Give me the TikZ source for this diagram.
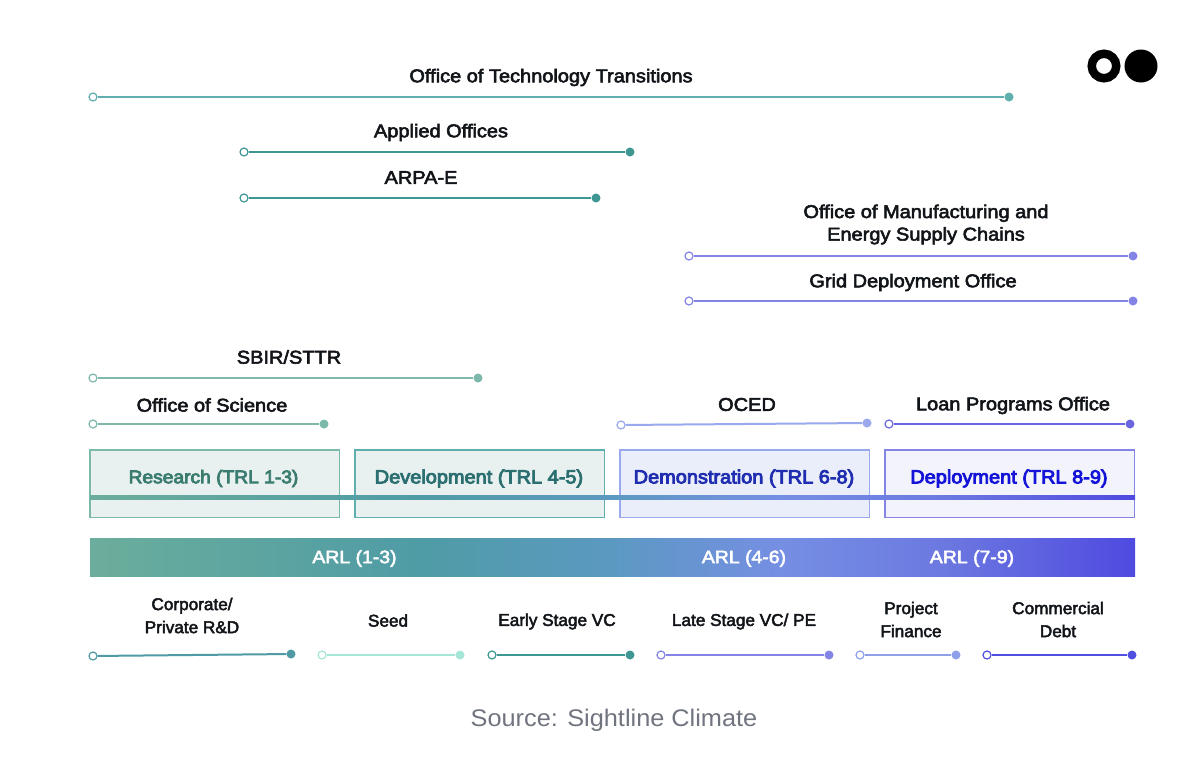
\documentclass[tikz,border=0pt]{standalone}
\usepackage{fontspec}
\setmainfont{Liberation Sans}
\newfontfamily\medfont[FakeBold=3.0,FakeStretch=1.08]{Liberation Sans}
\newfontfamily\lowfont[FakeBold=2.8,FakeStretch=1.01]{Liberation Sans}
\newfontfamily\boldish[FakeBold=4.5,FakeStretch=1.05]{Liberation Sans}
\newfontfamily\srcfont[FakeStretch=1.055]{Liberation Sans}
\definecolor{inkc}{HTML}{111418}
\definecolor{srcgray}{HTML}{70747F}
\definecolor{tealA}{HTML}{5FAFAE}
\definecolor{tealB}{HTML}{3F9793}
\definecolor{tealC}{HTML}{7DB9AA}
\definecolor{tealD}{HTML}{4F9AA5}
\definecolor{mint}{HTML}{A6E6D6}
\definecolor{vioA}{HTML}{8484E6}
\definecolor{vioB}{HTML}{9AA8EE}
\definecolor{vioC}{HTML}{6A66E0}
\definecolor{vioD}{HTML}{8FA0E8}
\definecolor{vioE}{HTML}{5050E0}
\pgfdeclarehorizontalshading{arlshade}{100bp}{
  rgb(0bp)=(0.42,0.68,0.61);
  rgb(25bp)=(0.42,0.68,0.61);
  rgb(41bp)=(0.31,0.61,0.65);
  rgb(50bp)=(0.36,0.60,0.76);
  rgb(58bp)=(0.46,0.56,0.89);
  rgb(66bp)=(0.42,0.47,0.88);
  rgb(75bp)=(0.31,0.29,0.88);
  rgb(100bp)=(0.31,0.29,0.88)}
\tikzset{
  x=1pt,y=-1pt,
  lbl/.style={font=\fontsize{18.5}{22.5}\selectfont\medfont,text=inkc,align=center,inner sep=0pt},
  lowlbl/.style={font=\fontsize{17}{23}\selectfont\lowfont,text=inkc,align=center,inner sep=0pt},
  stagebox/.style={draw=#1,line width=1.5pt,minimum width=249.5pt,minimum height=67.5pt,inner sep=0pt,anchor=north west},
  stagetxt/.style={font=\fontsize{19}{22}\selectfont\boldish,inner sep=0pt},
  arltxt/.style={font=\fontsize{18}{22}\selectfont\medfont,text=white,inner sep=0pt},
  opendot/.style={circle,draw=#1,fill=white,line width=1.2pt,minimum size=8pt,inner sep=0pt},
  fulldot/.style={circle,fill=#1,minimum size=9pt,inner sep=0pt},
  spanln/.style={draw=#1,line width=2pt}
}
\newcommand{\spanline}[4]{%
  \node[opendot=#4] (#1a) at (#2) {};
  \node[fulldot=#4] (#1b) at (#3) {};
  \draw[spanln=#4] (#1a) -- (#1b);
}
\begin{document}
\begin{tikzpicture}
\useasboundingbox (0,0) rectangle (1200,774);
\fill[white] (0,0) rectangle (1200,774);

% logo
\node[circle,draw=black,line width=8.5pt,fill=white,minimum size=24.5pt,inner sep=0pt] (logoa) at (1104,66) {};
\node[circle,fill=black,minimum size=33pt,inner sep=0pt] (logob) at (1141,66) {};

% top spans
\spanline{ott}{93,97}{1009,97}{tealA}
\node[lbl] (lott) at (551,77.5) {Office of Technology Transitions};
\spanline{app}{244,152}{630,152}{tealB}
\node[lbl] (lapp) at (441,132.5) {Applied Offices};
\spanline{arp}{244,198}{596,198}{tealB}
\node[lbl] (larp) at (421,177.5) {ARPA-E};
\spanline{mfg}{689,256}{1133,256}{vioA}
\node[lbl] (lmfg) at (926,224.5) {Office of Manufacturing and\\Energy Supply Chains};
\spanline{grd}{689,301}{1133,301}{vioA}
\node[lbl] (lgrd) at (913,282.5) {Grid Deployment Office};
\spanline{sbr}{93,378}{478,378}{tealC}
\node[lbl] (lsbr) at (289,357) {SBIR/STTR};
\spanline{sci}{93,424}{324,424}{tealC}
\node[lbl] (lsci) at (212,405) {Office of Science};
\spanline{oce}{621,425}{867,423}{vioB}
\node[lbl] (loce) at (747,404.5) {OCED};
\spanline{lpo}{889,424}{1130,424}{vioC}
\node[lbl] (llpo) at (1013,405.5) {Loan Programs Office};

% stage boxes
\node[stagebox=tealC,fill={rgb,255:red,233;green,241;blue,240}] (res) at (89,449) {};
\node[stagebox=tealA,fill={rgb,255:red,232;green,240;blue,240}] (dev) at (354,449) {};
\node[stagebox=vioB,fill={rgb,255:red,234;green,238;blue,250}] (dem) at (619,449) {};
\node[stagebox=vioA,fill={rgb,255:red,243;green,243;blue,252}] (dep) at (884,449) {};
\node[stagetxt,font=\fontsize{18.3}{22}\selectfont\boldish,text={rgb,255:red,58;green,125;blue,112}] (tres) at (213.5,478.5) {Research (TRL 1-3)};
\node[stagetxt,text={rgb,255:red,43;green,111;blue,112}] (tdev) at (479,478.5) {Development (TRL 4-5)};
\node[stagetxt,text={rgb,255:red,31;green,45;blue,176}] (tdem) at (744,478.5) {Demonstration (TRL 6-8)};
\node[stagetxt,text={rgb,255:red,20;green,20;blue,216}] (tdep) at (1009,478.5) {Deployment (TRL 8-9)};

% thin gradient line across boxes
\shade[shading=arlshade] (90,495) rectangle (1135,499.5);

% ARL bar
\shade[shading=arlshade] (90,538) rectangle (1135,576);
\node[arltxt] (a1) at (354.5,558.5) {ARL (1-3)};
\node[arltxt] (a2) at (744,558.5) {ARL (4-6)};
\node[arltxt] (a3) at (972,558.5) {ARL (7-9)};

% funding spans
\spanline{cor}{93,656}{291,654}{tealD}
\node[lowlbl] (lcor) at (192,615.5) {Corporate/\\Private R\&D};
\spanline{see}{322,655}{460,655}{mint}
\node[lowlbl] (lsee) at (388,620.5) {Seed};
\spanline{ear}{492,655}{630,655}{tealB}
\node[lowlbl] (lear) at (557,621.5) {Early Stage VC};
\spanline{lat}{661,655}{829,655}{vioA}
\node[lowlbl] (llat) at (744,621.5) {Late Stage VC/ PE};
\spanline{prj}{860,655}{956,655}{vioD}
\node[lowlbl] (lprj) at (911,619.5) {Project\\Finance};
\spanline{com}{987,655}{1132,655}{vioE}
\node[lowlbl] (lcom) at (1058,619.5) {Commercial\\Debt};

\node[font=\fontsize{24}{28}\selectfont\srcfont,text=srcgray,inner sep=0pt] (src) at (614,720.5) {Source: Sightline Climate};
\end{tikzpicture}
\end{document}
